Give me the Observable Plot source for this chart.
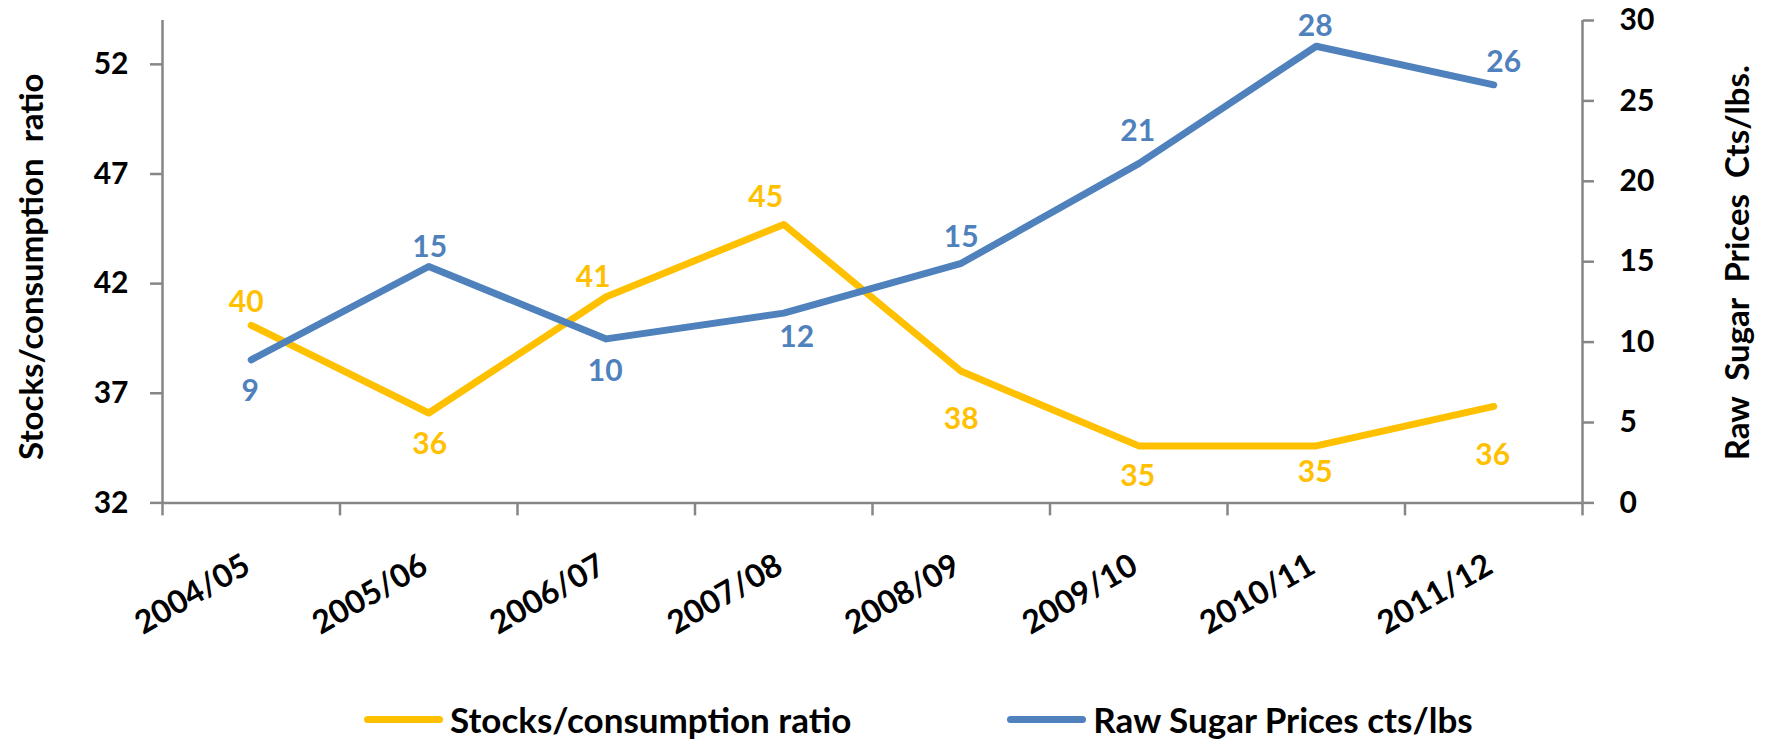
<!DOCTYPE html>
<html><head><meta charset="utf-8">
<script src="https://cdn.jsdelivr.net/npm/d3@7"></script>
<script src="https://cdn.jsdelivr.net/npm/@observablehq/plot@0.6"></script>
<style>
body{margin:0;background:#fff;}
#wrap{position:relative;width:1773px;height:740px;font-family:Lato,sans-serif;}
#legend{position:absolute;left:364px;top:699px;height:40px;display:flex;align-items:center;font-family:Lato,sans-serif;font-weight:bold;font-size:35px;color:#000;}
.sw{display:inline-block;width:79px;height:7px;border-radius:4px;margin-right:7px;}
.item{display:flex;align-items:center;}
</style></head><body>
<div id="wrap"><div id="legend"></div></div>
<script>
const seasons = ["2004/05","2005/06","2006/07","2007/08","2008/09","2009/10","2010/11","2011/12"];
const stocksRatio = [40.1, 36.1, 41.4, 44.7, 38.0, 34.6, 34.6, 36.4];
const sugarPrice = [8.9, 14.7, 10.2, 11.8, 14.9, 21.1, 28.4, 26.0];
const leftTicks = [32, 37, 42, 47, 52];
const rightTicks = [0, 5, 10, 15, 20, 25, 30];
const seriesNames = ["Stocks/consumption ratio", "Raw Sugar Prices cts/lbs"];
const leftTitle = "Stocks/consumption\u00a0\u00a0ratio";
const rightTitle = "Raw\u00a0\u00a0Sugar\u00a0\u00a0Prices\u00a0\u00a0Cts/lbs.";

// label nudges in pixels (layout only)
const stocksNudge = [[-5,-23],[1,31],[-13,-19],[-18,-27],[0,48],[-1,31],[-1,27],[-1,49]];
const priceNudge = [[-1,32],[1,-19],[-1,33],[13,24],[0,-26],[-1,-32],[-1,-20],[10,-22]];

const YELLOW = "#FFC000", BLUE = "#4F81BD", AXIS = "#868686";
const leftDomain = [32, 54], rightDomain = [0, 30];
const toLeft = d3.scaleLinear().domain(rightDomain).range(leftDomain);

const rows = seasons.map((s, i) => ({season: s, pos: i + 0.5, stocks: stocksRatio[i], price: sugarPrice[i], priceL: toLeft(sugarPrice[i])}));
const fmt = d3.format(".0f");
const font = {fontSize: 30, fontWeight: "bold"};
const titleFont = {fontSize: 33, fontWeight: "bold"};

const labelMarks = [];
rows.forEach((r, i) => {
  labelMarks.push(Plot.text([r], {x: "pos", y: "stocks", text: d => fmt(d.stocks), fill: YELLOW, dx: stocksNudge[i][0], dy: stocksNudge[i][1], ...font}));
  labelMarks.push(Plot.text([r], {x: "pos", y: "priceL", text: d => fmt(d.price), fill: BLUE, dx: priceNudge[i][0], dy: priceNudge[i][1], ...font}));
});

const chart = Plot.plot({
  width: 1773,
  height: 690,
  marginLeft: 162,
  marginRight: 191,
  marginTop: 20,
  marginBottom: 187.6,
  style: {fontFamily: "Lato, sans-serif", background: "white", overflow: "visible"},
  x: {type: "linear", domain: [0, seasons.length]},
  y: {domain: leftDomain},
  marks: [
    Plot.ruleY([leftDomain[0]], {stroke: AXIS, strokeWidth: 2.5}),
    Plot.ruleX([0], {y1: leftDomain[0], y2: leftDomain[1], stroke: AXIS, strokeWidth: 2.5}),
    Plot.ruleX([seasons.length], {y1: leftDomain[0], y2: leftDomain[1], stroke: AXIS, strokeWidth: 2.5}),
    Plot.axisY({anchor: "left", ticks: leftTicks, tickSize: 12, tickPadding: 22, stroke: AXIS, strokeWidth: 2.5, fill: "black", label: null, ...font}),
    Plot.axisY({anchor: "right", ticks: rightTicks.map(toLeft), tickFormat: d => fmt(toLeft.invert(d)), tickSize: 11, tickPadding: 26, stroke: AXIS, strokeWidth: 2.5, fill: "black", label: null, ...font}),
    Plot.axisX({ticks: d3.range(0, seasons.length + 1), tickFormat: () => "", tickSize: 13, stroke: AXIS, strokeWidth: 2.5, label: null}),
    Plot.axisX({ticks: rows.map(r => r.pos), tickFormat: d => seasons[Math.floor(d)], tickSize: 0, tickPadding: 60, tickRotate: -30, textAnchor: "end", lineAnchor: "middle", dx: -4, fill: "black", label: null, fontSize: 32, fontWeight: "bold"}),
    Plot.line(rows, {x: "pos", y: "stocks", stroke: YELLOW, strokeWidth: 7, strokeLinecap: "round", strokeLinejoin: "round"}),
    Plot.line(rows, {x: "pos", y: "priceL", stroke: BLUE, strokeWidth: 7, strokeLinecap: "round", strokeLinejoin: "round"}),
    ...labelMarks,
    Plot.text([leftTitle], {frameAnchor: "left", textAnchor: "middle", text: d => d, rotate: -90, dx: -130, dy: 5, fill: "black", ...titleFont}),
    Plot.text([rightTitle], {frameAnchor: "right", textAnchor: "middle", text: d => d, rotate: -90, dx: 156, dy: 1, fill: "black", ...titleFont})
  ]
});
const wrap = document.getElementById("wrap");
wrap.insertBefore(chart, wrap.firstChild);

const legend = d3.select("#legend");
[[seriesNames[0], YELLOW], [seriesNames[1], BLUE]].forEach(([name, color], i) => {
  const it = legend.append("div").attr("class", "item").style("margin-right", i === 0 ? "156px" : "0");
  it.append("span").attr("class", "sw").style("background", color);
  it.append("span").text(name);
});
</script>
</body></html>
